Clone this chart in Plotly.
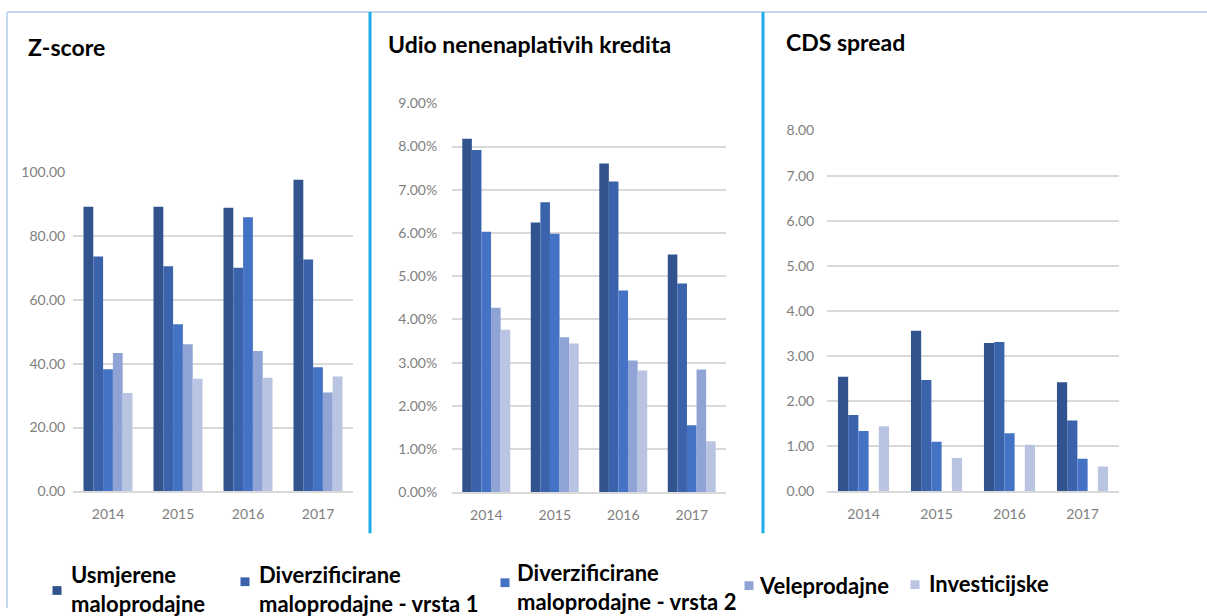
import plotly.graph_objects as go

W, H = 1207, 616

years = ["2014", "2015", "2016", "2017"]
series_names = [
    "Usmjerene<br>maloprodajne",
    "Diverzificirane<br>maloprodajne - vrsta 1",
    "Diverzificirane<br>maloprodajne - vrsta 2",
    "Veleprodajne",
    "Investicijske",
]
colors = ["#31548F", "#3B63AB", "#4472C4", "#8FA4D5", "#B9C3E2"]

# Z-score values per series (2014..2017)
z_usm = [89.2, 89.2, 88.9, 97.7]
z_div1 = [73.6, 70.6, 70.1, 72.7]
z_div2 = [38.3, 52.4, 85.9, 38.9]
z_vel = [43.4, 46.1, 44.0, 31.0]
z_inv = [30.8, 35.3, 35.6, 36.0]

# Udio nenenaplativih kredita (fractions)
n_usm = [0.0818, 0.0624, 0.0761, 0.0550]
n_div1 = [0.0792, 0.0671, 0.0719, 0.0483]
n_div2 = [0.0603, 0.0598, 0.0467, 0.0155]
n_vel = [0.0427, 0.0359, 0.0305, 0.0284]
n_inv = [0.0376, 0.0344, 0.0282, 0.0118]

# CDS spread
c_usm = [2.54, 3.56, 3.29, 2.42]
c_div1 = [1.69, 2.47, 3.31, 1.57]
c_div2 = [1.34, 1.10, 1.29, 0.72]
c_vel = [None, None, None, None]
c_inv = [1.44, 0.74, 1.03, 0.55]

panel_titles = ["Z-score", "Udio nenenaplativih kredita", "CDS spread"]


def px(x):
    return x / W


def py(y):
    return 1 - y / H


fig = go.Figure()

panels = [
    ([z_usm, z_div1, z_div2, z_vel, z_inv], "x", "y"),
    ([n_usm, n_div1, n_div2, n_vel, n_inv], "x2", "y2"),
    ([c_usm, c_div1, c_div2, c_vel, c_inv], "x3", "y3"),
]
for data, xa, ya in panels:
    for name, vals, col in zip(series_names, data, colors):
        fig.add_trace(go.Bar(x=years, y=vals, name=name, marker_color=col,
                             marker_line_width=0, xaxis=xa, yaxis=ya,
                             showlegend=False, hoverinfo="skip"))

tickfont = dict(family="Lato", size=14, color="#808080")
grid = "#D9D9D9"

def xax(d0, d1, anchor):
    return dict(domain=[px(d0), px(d1)], anchor=anchor, showline=True,
                linecolor=grid, linewidth=1.5, tickfont=tickfont,
                ticks="outside", ticklen=9, tickcolor="rgba(0,0,0,0)",
                showgrid=False, fixedrange=True)

def yax(b, t, rng, dtick, fmt, anchor, tl):
    return dict(domain=[py(b), py(t)], anchor=anchor, range=rng, dtick=dtick,
                tickformat=fmt, showgrid=True, gridcolor=grid, gridwidth=1.5,
                zeroline=False, showline=False, tickfont=tickfont,
                ticks="outside", ticklen=tl, tickcolor="rgba(0,0,0,0)",
                fixedrange=True)

layout = dict(
    width=W, height=H, margin=dict(l=0, r=0, t=0, b=0),
    paper_bgcolor="white", plot_bgcolor="white",
    barmode="group", bargap=0.3, bargroupgap=0,
    xaxis=xax(73, 353, "y"),
    yaxis=yax(496, 168, [0, 100], 20, ".2f", "x", 4),
    xaxis2=xax(452, 726, "y2"),
    yaxis2=yax(497, 97, [0, 0.09], 0.01, ".2%", "x2", 11),
    xaxis3=xax(827, 1119, "y3"),
    yaxis3=yax(496, 125, [0, 8], 1, ".2f", "x3", 9),
)
fig.update_layout(**layout)

# frame lines
frame = "#C6D9F1"
divider = "#1EABE8"
shapes = [
    dict(type="line", xref="paper", yref="paper", x0=px(7), x1=px(1207), y0=py(3), y1=py(3),
         line=dict(color=frame, width=2)),
    dict(type="line", xref="paper", yref="paper", x0=px(7), x1=px(7), y0=py(3), y1=py(616),
         line=dict(color=frame, width=2)),
    dict(type="line", xref="paper", yref="paper", x0=px(370), x1=px(370), y0=py(3), y1=py(539),
         line=dict(color=divider, width=3)),
    dict(type="line", xref="paper", yref="paper", x0=px(763), x1=px(763), y0=py(3), y1=py(539),
         line=dict(color=divider, width=3)),
]

annotations = []
title_pos = [(26, 39), (386, 36), (784, 34)]
for t, (tx, ty) in zip(panel_titles, title_pos):
    annotations.append(dict(text="<b>%s</b>" % t, x=px(tx), y=py(ty), xref="paper", yref="paper",
                            xanchor="left", yanchor="middle", showarrow=False,
                            font=dict(family="Lato", size=23, color="black")))

# legend (markers + text)
leg_marker = [(57, 598), (245, 589), (505, 590), (749, 593), (915, 592)]
leg_text = [(69, 596), (257, 596), (515, 594), (757, 593), (927, 591)]
for name, col, (mx, my), (tx, ty) in zip(series_names, colors, leg_marker, leg_text):
    s = 4.5
    shapes.append(dict(type="rect", xref="paper", yref="paper",
                       x0=px(mx - s), x1=px(mx + s), y0=py(my + s), y1=py(my - s),
                       fillcolor=col, line=dict(width=0)))
    annotations.append(dict(text="<b>%s</b>" % name, x=px(tx), y=py(ty), xref="paper", yref="paper",
                            xanchor="left", yanchor="middle", align="left", showarrow=False,
                            font=dict(family="Lato", size=22, color="black")))

fig.update_layout(shapes=shapes, annotations=annotations)
fig.write_html("out.html", config={"displayModeBar": False},
               post_script="document.body.style.margin='0px';document.body.style.overflow='hidden';")
